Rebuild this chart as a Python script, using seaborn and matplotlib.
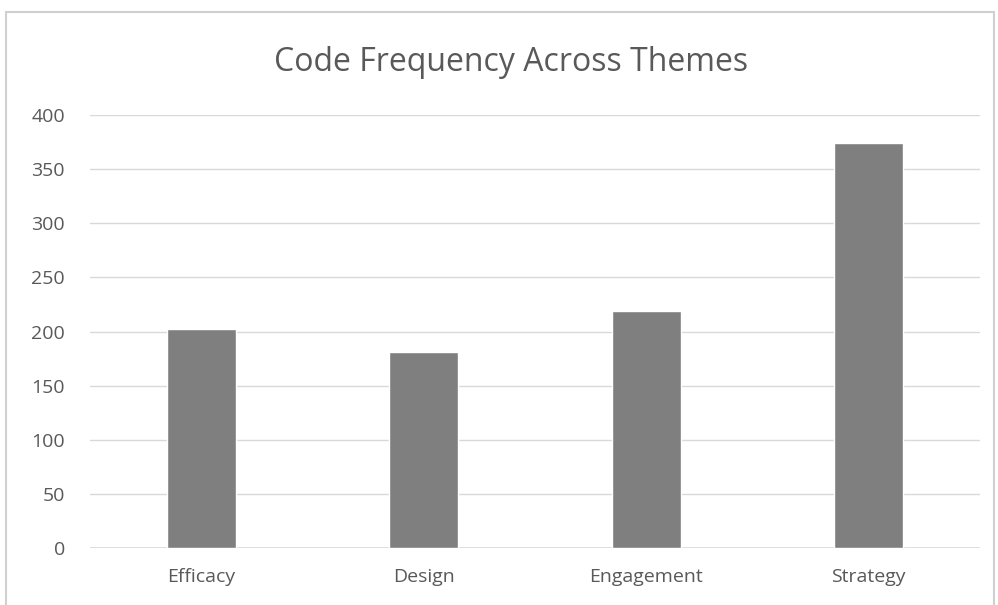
import matplotlib
matplotlib.use("Agg")
import matplotlib.pyplot as plt
import seaborn as sns
import pandas as pd
from matplotlib.patches import Rectangle

# -------------------- data --------------------
themes = ["Efficacy", "Design", "Engagement", "Strategy"]
counts = [202, 181, 219, 374]
y_ticks = [0, 50, 100, 150, 200, 250, 300, 350, 400]
# ----------------------------------------------

sns.set_theme(style="white")
plt.rcParams["font.family"] = ["Open Sans", "DejaVu Sans"]

df = pd.DataFrame({"theme": themes, "count": counts})

fig = plt.figure(figsize=(9.98, 6.05), dpi=100)
ax = fig.add_axes([0.090, 0.094, 0.892, 0.716])

sns.barplot(data=df, x="theme", y="count", color="#7f7f7f", saturation=1,
            width=0.31, ax=ax, zorder=3)

ax.set_ylim(0, 400)
ax.set_xlim(-0.5, 3.5)
ax.set_yticks(y_ticks)
ax.yaxis.grid(True, color="#d9d9d9", linewidth=1.0, zorder=0)
ax.set_axisbelow(True)
for s in ax.spines.values():
    s.set_visible(False)
ax.axhline(0, color="#d9d9d9", linewidth=1.2, zorder=1)

ax.set_xlabel("")
ax.set_ylabel("")
ax.tick_params(axis="both", length=0, labelsize=14, labelcolor="#595959")
ax.tick_params(axis="y", pad=18)
ax.tick_params(axis="x", pad=14)

fig.text(0.512, 0.897, "Code Frequency Across Themes", ha="center", va="center",
         fontsize=23, color="#595959")

# outer chart border
fig.patches.append(Rectangle((0.006, -0.01), 0.99, 0.99, transform=fig.transFigure,
                             fill=False, edgecolor="#d0d0d0", linewidth=1.5))

fig.savefig("out.png", dpi=100, facecolor="white")
